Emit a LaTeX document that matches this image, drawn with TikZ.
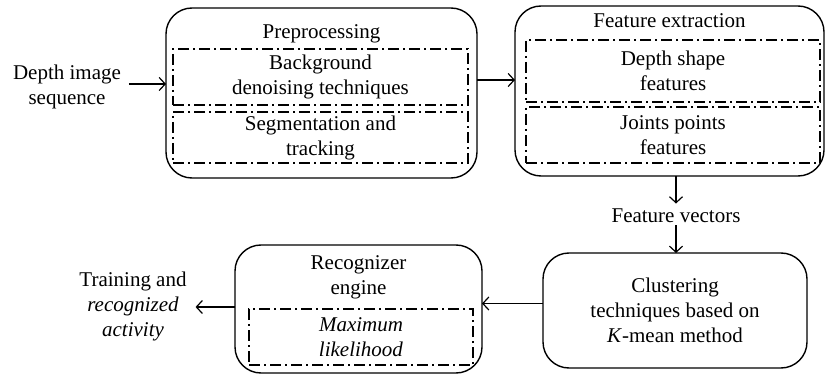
\documentclass[tikz,border=0pt]{standalone}
\usepackage{fontspec}
\setmainfont{Liberation Serif}
\usetikzlibrary{arrows.meta,calc}
\begin{document}
\begin{tikzpicture}[x=1pt,y=-1pt,
  every node/.style={font=\fontsize{21}{25}\selectfont, align=center, inner sep=0pt, outer sep=0pt},
  outerbox/.style={draw, line width=1.4pt, rounded corners=26pt},
  innerbox/.style={draw, line width=1.1pt, dash pattern=on 11pt off 4pt on 2pt off 4pt},
  arr/.style={line width=1.2pt, -{Straight Barb[length=6pt,width=13pt,line width=1.2pt]}}
]
\useasboundingbox (0,0) rectangle (825,374);

% Preprocessing
\node[outerbox, minimum width=311pt, minimum height=170pt] (pre) at (321.5,93) {};
\node (preh) at (321.5,34) {Preprocessing};
\node[innerbox, minimum width=295pt, minimum height=56pt] (pre1) at (320.5,77) {Background\\denoising techniques};
\node[innerbox, minimum width=295pt, minimum height=51pt] (pre2) at (320.5,137.5) {Segmentation and\\tracking};

% Feature extraction
\node[outerbox, minimum width=309pt, minimum height=170pt] (feat) at (669.5,91) {};
\node (feath) at (669.5,20.5) {Feature extraction};
\node[innerbox, minimum width=294pt, minimum height=62pt] (feat1) at (673,71) {Depth shape\\features};
\node[innerbox, minimum width=294pt, minimum height=56pt] (feat2) at (673,135) {Joints points\\features};

% Input
\node (in) at (67,87) {Depth image\\sequence};

% Feature vectors
\node (fv) at (676,215.5) {Feature vectors};

% Clustering
\node[outerbox, minimum width=264pt, minimum height=115pt] (clust) at (675,310.5) {Clustering\\techniques based on\\\textit{K}-mean method};

% Recognizer
\node[outerbox, minimum width=247pt, minimum height=128pt] (rec) at (358.5,309) {};
\node (rech) at (358.5,277) {Recognizer\\engine};
\node[innerbox, minimum width=224pt, minimum height=56pt] (rec1) at (361,337) {\textit{Maximum}\\\textit{likelihood}};

% Output
\node (out) at (133,306) {Training and\\\textit{recognized}\\\textit{activity}};

% Connectors
\draw[arr] ($(in.east)+(8,-3)$) -- ($(in.east -| pre.west)+(0,-3)$);
\draw[arr] ($(pre.east)+(0,-13)$) -- ($(pre.east -| feat.west)+(0,-13)$);
\draw[arr] (fv.north |- feat.south) -- ($(fv.north)+(0,-5)$);
\draw[arr] ($(fv.south)+(0,3)$) -- (fv.south |- clust.north);
\draw[arr] ($(clust.west)+(0,-7)$) -- ($(clust.west -| rec.east)+(0,-7)$);
\draw[arr] ($(out.east -| rec.west)+(0,1)$) -- ($(out.east)+(9,1)$);
\end{tikzpicture}
\end{document}
